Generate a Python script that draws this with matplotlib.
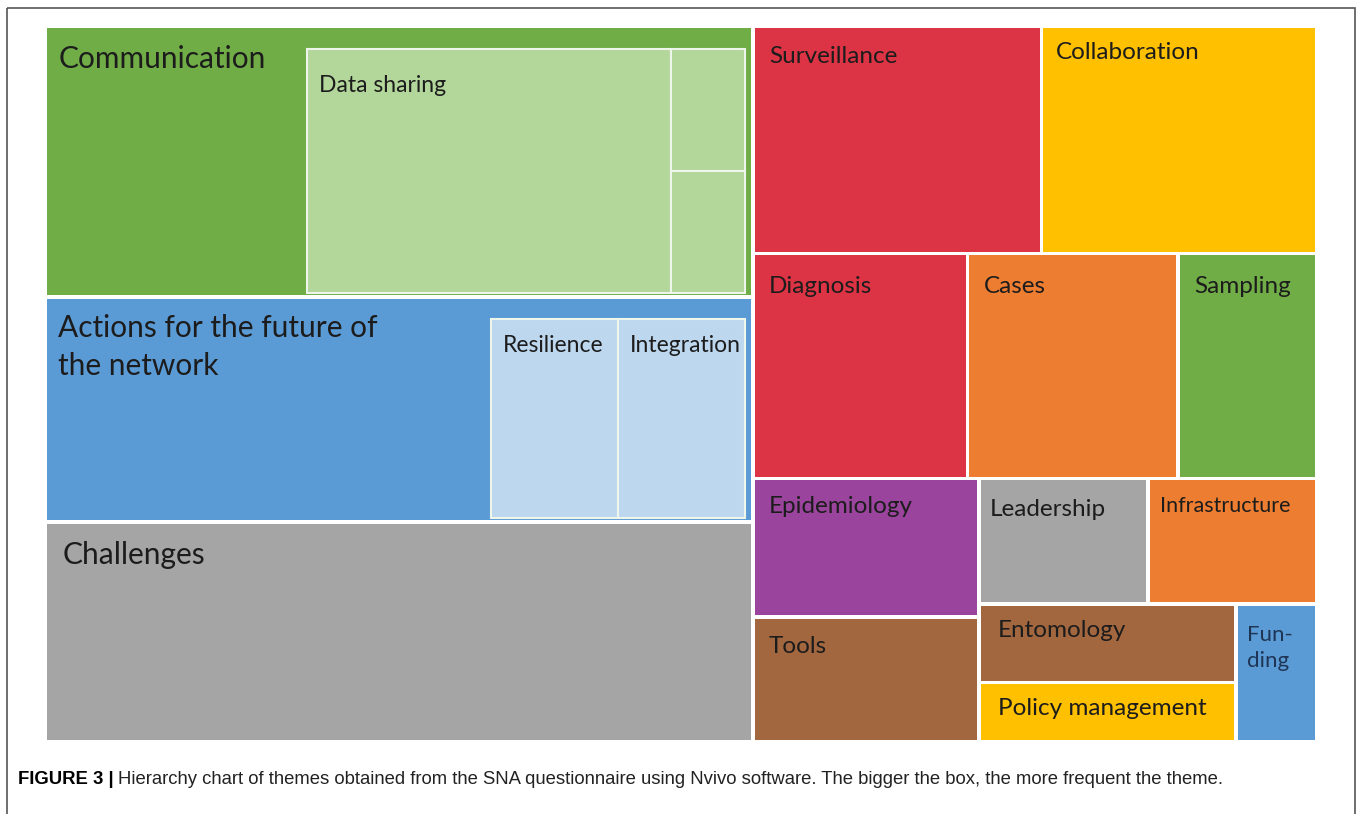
import matplotlib.pyplot as plt
from matplotlib.patches import Rectangle

# themes and how often they were coded
themes = ["Communication", "Actions for the future of\nthe network", "Challenges",
          "Surveillance", "Collaboration", "Diagnosis", "Cases", "Sampling",
          "Epidemiology", "Tools", "Leadership", "Infrastructure",
          "Entomology", "Policy management", "Fun-\nding"]
counts = [190, 158, 154, 65, 62, 48, 47, 31, 31, 28, 21, 21, 20, 15, 11]

# sub themes drawn inside their parent box
sub_parent = [0, 0, 0, 1, 1]
sub_labels = ["Data sharing", "", "", "Resilience", "Integration"]
sub_counts = [88, 9, 9, 25, 25]

caption_bold = "FIGURE 3 |"
caption_text = ("Hierarchy chart of themes obtained from the SNA questionnaire using Nvivo software. "
                "The bigger the box, the more frequent the theme.")

colors = ["#70AD47", "#5B9BD5", "#A5A5A5", "#DC3444", "#FFC000", "#DC3444", "#ED7D31",
          "#70AD47", "#9B449D", "#A3673F", "#A5A5A5", "#ED7D31", "#A3673F", "#FFC000", "#5B9BD5"]
sub_colors = ["#B3D69B", "#B3D69B", "#B3D69B", "#BDD7EE", "#BDD7EE"]

# arrangement of the boxes (h = side by side, v = stacked), leaves are indices into themes
layout = ("h", [("v", [0, 1, 2]),
                ("v", [("h", [3, 4]),
                       ("h", [5, 6, 7]),
                       ("h", [("v", [8, 9]),
                              ("v", [("h", [10, 11]),
                                     ("h", [("v", [12, 13]), 14])])])])])


def total(node, vals):
    if isinstance(node, int):
        return vals[node]
    return sum(total(n, vals) for n in node[1])


def place(node, x, y, w, h, vals, out):
    if isinstance(node, int):
        out[node] = (x, y, w, h)
        return
    kind, kids = node
    s = total(node, vals)
    for k in kids:
        f = total(k, vals) / s
        if kind == "h":
            place(k, x, y, w * f, h, vals, out)
            x += w * f
        else:
            place(k, x, y, w, h * f, vals, out)
            y += h * f


fig = plt.figure(figsize=(13.58, 8.14), dpi=100)
ax = fig.add_axes([0, 0, 1, 1])
ax.set_xlim(0, 1358)
ax.set_ylim(814, 0)
ax.axis("off")

# outer frame of the figure panel
ax.add_patch(Rectangle((7, 8), 1348, 830, fill=False, edgecolor="#555555", lw=1.2))

boxes = {}
place(layout, 45.5, 26.5, 1271, 715, counts, boxes)
gap = 3.5

label_size = {0: 21.5, 1: 21.5, 2: 21.5, 11: 15.5, 14: 16}
label_off = {0: (13, 33), 1: (13, 50), 2: (17, 33), 3: (16, 30), 4: (15, 26),
             5: (16, 33), 6: (16, 33), 7: (16, 33), 8: (16, 28), 9: (16, 30),
             10: (11, 31), 11: (12, 27), 12: (19, 26), 13: (19, 26), 14: (11, 44)}
label_color = {14: "#1F3556"}
label_spacing = {1: 1.42, 14: 1.4}

for i, name in enumerate(themes):
    x, y, w, h = boxes[i]
    ax.add_patch(Rectangle((x + gap / 2, y + gap / 2), w - gap, h - gap,
                           facecolor=colors[i], edgecolor="none"))
    dx, dy = label_off.get(i, (16, 30))
    ax.text(x + dx, y + dy, name, fontsize=label_size.get(i, 17.5), family="Lato",
            color=label_color.get(i, "#1c1c1c"), va="center", ha="left",
            linespacing=label_spacing.get(i, 1.2))

# sub themes: packed into the lower right part of the parent box
sub_dy = {0: 37}
for p in sorted(set(sub_parent)):
    idx = [j for j in range(len(sub_labels)) if sub_parent[j] == p]
    px, py, pw, ph = boxes[p]
    rh = ph - 22 - 4.5
    rw = sum(sub_counts[j] for j in idx) / counts[p] * pw * ph / rh
    rx, ry = px + pw - 8 - rw, py + 22
    sub_layout = ("h", [idx[0], ("v", idx[1:])]) if len(idx) > 2 else ("h", idx)
    sub_boxes = {}
    place(sub_layout, rx, ry, rw, rh, sub_counts, sub_boxes)
    for j, (x, y, w, h) in sub_boxes.items():
        ax.add_patch(Rectangle((x, y), w, h, facecolor=sub_colors[j],
                               edgecolor="#EEF5EA", lw=1.5))
        ax.text(x + 12, y + sub_dy.get(j, 26), sub_labels[j], fontsize=16.5, family="Lato",
                color="#1c1c1c", va="center", ha="left")

t = ax.text(18, 780, caption_bold, fontsize=13.3, family="Liberation Sans",
            weight="bold", va="center", ha="left")
fig.canvas.draw()
bb = t.get_window_extent()
ax.text(18 + bb.width + 4, 780, caption_text, fontsize=13.3, family="Liberation Sans",
        va="center", ha="left", color="#222222")

fig.savefig("out.png", dpi=100)
